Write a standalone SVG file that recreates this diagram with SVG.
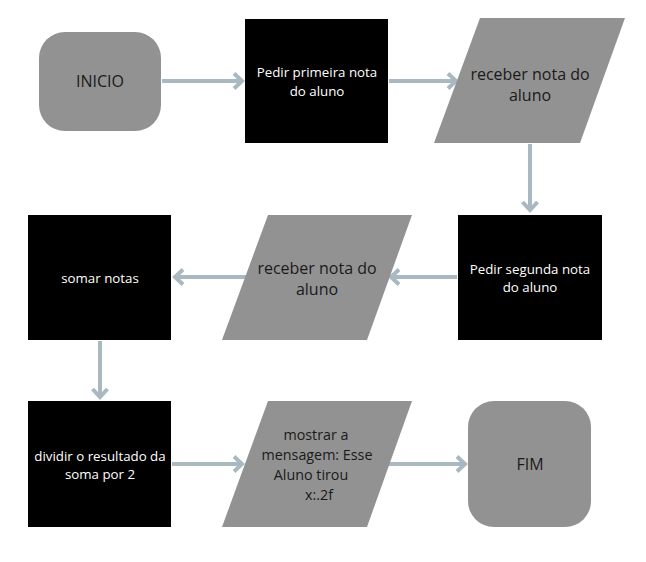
<svg xmlns="http://www.w3.org/2000/svg" width="646" height="562" viewBox="0 0 646 562">
<style>
.term{fill:#929292}
.proc{fill:#000}
.io{fill:#929292}
.tw{fill:#fff;font-family:"Open Sans","Liberation Sans",sans-serif;font-size:13.3px;text-anchor:middle}
.td{fill:#1a1a1a;font-family:"Open Sans","Liberation Sans",sans-serif;font-size:16px;text-anchor:middle}
.tm{fill:#1a1a1a;font-family:"Open Sans","Liberation Sans",sans-serif;font-size:14.3px;text-anchor:middle}
.c{stroke:#a9b8c1;stroke-width:4;fill:none;marker-end:url(#ah)}
</style>
<defs>
<marker id="ah" markerUnits="userSpaceOnUse" markerWidth="16" markerHeight="20" refX="10" refY="10" orient="auto">
<path d="M2,2.5 L10,10 L2,17.5" fill="none" stroke="#a9b8c1" stroke-width="4" stroke-linejoin="miter"/>
</marker>
</defs>
<rect width="646" height="562" fill="#fff"/>
<g id="connectors">
<line class="c" x1="162" y1="81" x2="242" y2="81"/>
<line class="c" x1="389" y1="81" x2="456" y2="81"/>
<line class="c" x1="530" y1="144" x2="530" y2="210"/>
<line class="c" x1="457" y1="277" x2="391" y2="277"/>
<line class="c" x1="246" y1="277" x2="175" y2="277"/>
<line class="c" x1="100" y1="341" x2="100" y2="397"/>
<line class="c" x1="172" y1="464" x2="242" y2="464"/>
<line class="c" x1="388" y1="464" x2="465" y2="464"/>
</g>
<g id="inicio">
<rect class="term" x="39" y="32" width="122" height="99" rx="26"/>
<text class="td" x="100" y="87">INICIO</text>
</g>
<g id="pedir1">
<rect class="proc" x="245" y="19" width="143" height="124"/>
<text class="tw" x="317" y="77">Pedir primeira nota</text>
<text class="tw" x="317" y="96">do aluno</text>
</g>
<g id="receber1">
<polygon class="io" points="480,18 625,18 580,143 434,143"/>
<text class="td" x="530" y="80">receber nota do</text>
<text class="td" x="530" y="101">aluno</text>
</g>
<g id="pedir2">
<rect class="proc" x="458" y="215" width="144" height="125"/>
<text class="tw" x="530" y="274">Pedir segunda nota</text>
<text class="tw" x="530" y="292">do aluno</text>
</g>
<g id="receber2">
<polygon class="io" points="268,215 412,215 367,340 222,340"/>
<text class="td" x="317" y="274">receber nota do</text>
<text class="td" x="317" y="295">aluno</text>
</g>
<g id="somar">
<rect class="proc" x="28" y="215" width="143" height="125"/>
<text class="tw" x="100" y="283">somar notas</text>
</g>
<g id="dividir">
<rect class="proc" x="28" y="401" width="143" height="126"/>
<text class="tw" x="100" y="461">dividir o resultado da</text>
<text class="tw" x="100" y="479">soma por 2</text>
</g>
<g id="mostrar">
<polygon class="io" points="268,401 412,401 367,527 222,527"/>
<text class="tm" x="316" y="440">mostrar a</text>
<text class="tm" x="317" y="460">mensagem: Esse</text>
<text class="tm" x="311" y="480">Aluno tirou</text>
<text class="tm" x="319" y="500">x:.2f</text>
</g>
<g id="fim">
<rect class="term" x="468" y="401" width="123" height="126" rx="26"/>
<text class="td" x="530" y="470">FIM</text>
</g>
</svg>
